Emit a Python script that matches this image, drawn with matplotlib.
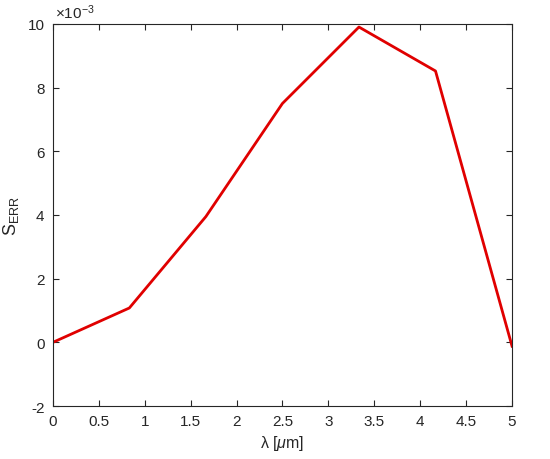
import numpy as np
import matplotlib.pyplot as plt
from matplotlib.ticker import FuncFormatter

# datos
lam = [0.0, 0.8333, 1.6667, 2.5, 3.3333, 4.1667, 5.0]
s_err = [0.0, 1.08e-3, 3.95e-3, 7.5e-3, 9.9e-3, 8.52e-3, -0.12e-3]

plt.rcParams['font.family'] = ['Liberation Sans', 'DejaVu Sans']
plt.rcParams['mathtext.fontset'] = 'custom'
plt.rcParams['mathtext.rm'] = 'Liberation Sans'
plt.rcParams['mathtext.it'] = 'Liberation Sans:italic'
plt.rcParams['axes.unicode_minus'] = False

gris = '#262626'

fig = plt.figure(figsize=(5.5, 4.6), dpi=100)
ax = fig.add_axes([0.096, 0.115, 0.835, 0.831])

ax.plot(lam, s_err, color='#e00000', linewidth=2.0)

ax.set_xlim(0, 5)
ax.set_ylim(-2e-3, 10e-3)
ax.set_xticks(np.arange(0, 5.01, 0.5))
ax.xaxis.set_major_formatter(FuncFormatter(lambda v, p: '%g' % v))
ax.set_yticks(np.arange(-2e-3, 10.01e-3, 2e-3))
ax.yaxis.set_major_formatter(FuncFormatter(lambda v, p: '%g' % round(v * 1e3)))

ax.text(0.005, 1.008, r'$\times$10$^{\mathregular{-3}}$', transform=ax.transAxes,
        fontsize=11, color=gris, ha='left', va='bottom')

ax.tick_params(direction='in', top=True, right=True, length=4,
               labelsize=11, colors=gris, width=0.8, pad=6)
for s in ax.spines.values():
    s.set_color(gris)
    s.set_linewidth(0.8)

ax.set_xlabel(r'λ [$\mathit{\mu}$m]', fontsize=11.5, color=gris, labelpad=3)
ax.set_ylabel(r'S$_{\mathregular{ERR}}$', fontsize=13, color=gris, labelpad=5)

plt.savefig('out.png', dpi=100)
